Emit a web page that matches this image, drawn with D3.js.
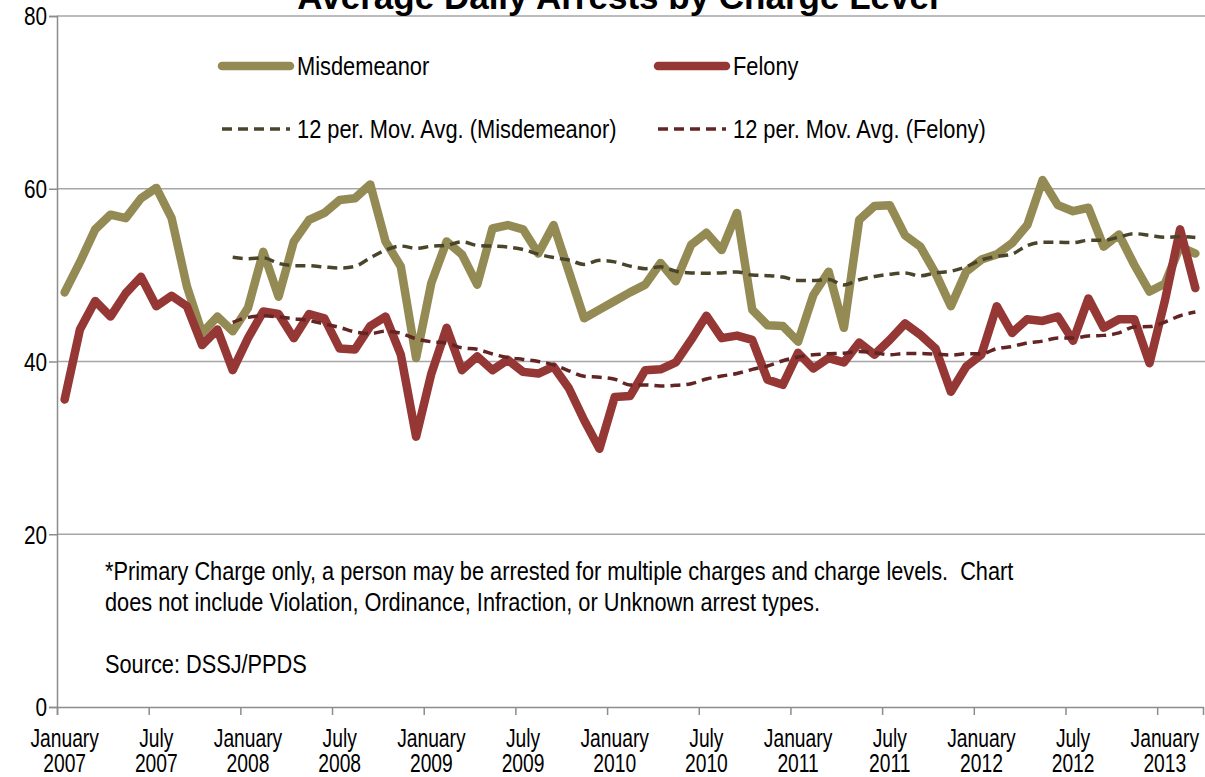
<!DOCTYPE html>
<html>
<head>
<meta charset="utf-8">
<script src="https://cdn.jsdelivr.net/npm/d3@7"></script>
<style>
  body { margin: 0; background: #fff; }
  text { font-family: "Liberation Sans", Arial, sans-serif; fill: #000; }
</style>
</head>
<body>
<div id="chart"></div>
<script>
var width = 1205;
var height = 777;

// months Jan 2007 .. Mar 2013
var monthNames = ["January","February","March","April","May","June","July","August","September","October","November","December"];
var months = [];
for (var yr = 2007; yr <= 2013; yr++) {
  for (var m = 0; m < 12; m++) {
    if (yr === 2013 && m > 2) break;
    months.push(monthNames[m] + " " + yr);
  }
}

var misdemeanor = [48.0,51.5,55.3,57.0,56.6,58.9,60.1,56.6,48.7,43.3,45.2,43.5,
  46.2,52.7,47.5,53.9,56.4,57.2,58.7,58.9,60.5,53.9,51.0,40.4,
  49.1,53.9,52.4,48.9,55.4,55.8,55.3,52.5,55.8,50.4,45.0,46.0,
  47.0,48.0,48.9,51.4,49.3,53.5,54.9,52.9,57.2,46.0,44.2,44.1,
  42.3,47.7,50.4,43.9,56.4,58.0,58.1,54.6,53.3,50.2,46.4,50.4,
  51.8,52.4,53.7,55.8,61.0,58.1,57.4,57.8,53.3,54.7,51.2,48.1,
  49.0,53.3,52.5];

var felony = [35.6,43.7,47.0,45.2,47.9,49.8,46.4,47.6,46.4,41.9,43.7,39.0,
  42.7,45.8,45.5,42.7,45.5,45.0,41.5,41.4,44.1,45.2,40.8,31.3,
  38.6,43.9,39.0,40.6,39.0,40.2,38.8,38.6,39.4,36.9,33.2,29.9,
  35.9,36.0,39.0,39.1,39.9,42.5,45.3,42.7,43.0,42.5,37.9,37.3,
  41.0,39.2,40.4,39.9,42.2,40.8,42.5,44.4,43.1,41.5,36.5,39.4,
  40.8,46.4,43.3,44.9,44.7,45.2,42.4,47.3,43.9,44.9,44.9,39.8,
  47.0,55.3,48.5];

var yTicks = [0, 20, 40, 60, 80];
var xTickMonths = [0, 6, 12, 18, 24, 30, 36, 42, 48, 54, 60, 66, 72];
var xTickLabels = [["January","2007"],["July","2007"],["January","2008"],["July","2008"],
  ["January","2009"],["July","2009"],["January","2010"],["July","2010"],
  ["January","2011"],["July","2011"],["January","2012"],["July","2012"],["January","2013"]];

var legendNames = ["Misdemeanor", "Felony", "12 per. Mov. Avg. (Misdemeanor)", "12 per. Mov. Avg. (Felony)"];
var noteLines = ["*Primary Charge only, a person may be arrested for multiple charges and charge levels.  Chart",
  "does not include Violation, Ordinance, Infraction, or Unknown arrest types.",
  "",
  "Source: DSSJ/PPDS"];

var misColor = "#948a54", felColor = "#953735";
var misAvgColor = "#4a452a", felAvgColor = "#632523";

// 12 period moving average, same as the excel trendline
function movAvg(arr, n) {
  var out = [];
  for (var i = n - 1; i < arr.length; i++) {
    out.push({ i: i, v: d3.mean(arr.slice(i - n + 1, i + 1)) });
  }
  return out;
}

// no narrow font installed, so squeeze text sideways around its x anchor
function narrow(sel, k, ax) {
  sel.attr("transform", function(d, i){
    var x0 = ax ? ax(d, i) : +d3.select(this).attr("x");
    return "translate(" + x0 + ",0) scale(" + k + ",1) translate(" + (-x0) + ",0)";
  });
}

const x = d3.scaleLinear().domain([0, months.length]).range([57, 1203]);
const y = d3.scaleLinear().domain([0, 80]).range([707, 16]);

const svg = d3.select("#chart")
  .append("svg")
  .attr("width", width)
  .attr("height", height);

// gridlines
svg.append("g")
  .selectAll("line")
  .data(yTicks.slice(1))
  .enter().append("line")
  .attr("x1", 57).attr("x2", width)
  .attr("y1", function(d){ return y(d); })
  .attr("y2", function(d){ return y(d); })
  .attr("stroke", "#a6a6a6")
  .attr("stroke-width", 1.5);

// y axis
var yAxis = svg.append("g")
  .attr("transform", "translate(57,0)")
  .call(d3.axisLeft(y).tickValues(yTicks).tickSize(8).tickFormat(d3.format("d")));
yAxis.select(".domain").attr("stroke", "#8c8c8c").attr("stroke-width", 1.5);
yAxis.selectAll(".tick line").attr("stroke", "#8c8c8c").attr("stroke-width", 1.5);
yAxis.selectAll(".tick text")
  .attr("x", -10)
  .attr("dy", "0.35em")
  .style("font-size", "25px")
  .style("font-family", null)
  .call(narrow, 0.83);

// x axis
var xAxis = svg.append("g")
  .attr("transform", "translate(0,707)")
  .call(d3.axisBottom(x).tickValues(xTickMonths).tickSize(8).tickFormat(""));
xAxis.select(".domain").attr("stroke", "#8c8c8c").attr("stroke-width", 1.5);
xAxis.selectAll(".tick line").attr("stroke", "#8c8c8c").attr("stroke-width", 1.5);

var xLab = svg.append("g")
  .selectAll("text")
  .data(xTickMonths)
  .enter().append("text")
  .attr("text-anchor", "middle")
  .style("font-size", "25px")
  .call(narrow, 0.77, function(d){ return x(d + 0.5); });
xLab.append("tspan")
  .attr("x", function(d){ return x(d + 0.5); })
  .attr("y", 747)
  .text(function(d, i){ return xTickLabels[i][0]; });
xLab.append("tspan")
  .attr("x", function(d){ return x(d + 0.5); })
  .attr("y", 772)
  .text(function(d, i){ return xTickLabels[i][1]; });

const line = d3.line()
  .x(function(d, i){ return x(i + 0.5); })
  .y(function(d){ return y(d); });

const avgLine = d3.line()
  .curve(d3.curveMonotoneX)
  .x(function(d){ return x(d.i + 0.5); })
  .y(function(d){ return y(d.v); });

svg.append("path")
  .datum(misdemeanor)
  .attr("fill", "none")
  .attr("stroke", misColor)
  .attr("stroke-width", 8.5)
  .attr("stroke-linejoin", "round")
  .attr("stroke-linecap", "round")
  .attr("d", line);

svg.append("path")
  .datum(felony)
  .attr("fill", "none")
  .attr("stroke", felColor)
  .attr("stroke-width", 8.5)
  .attr("stroke-linejoin", "round")
  .attr("stroke-linecap", "round")
  .attr("d", line);

svg.append("path")
  .datum(movAvg(misdemeanor, 12))
  .attr("fill", "none")
  .attr("stroke", misAvgColor)
  .attr("stroke-width", 3.5)
  .attr("stroke-dasharray", "10,6")
  .attr("d", avgLine);

svg.append("path")
  .datum(movAvg(felony, 12))
  .attr("fill", "none")
  .attr("stroke", felAvgColor)
  .attr("stroke-width", 3.5)
  .attr("stroke-dasharray", "10,6")
  .attr("d", avgLine);

// title (top is cut off in the original too)
svg.append("text")
  .attr("x", 618)
  .attr("y", 9)
  .attr("text-anchor", "middle")
  .style("font-weight", "bold")
  .style("font-size", "35px")
  .text("Average Daily Arrests by Charge Level");

// legend
var legendItems = [
  { name: legendNames[0], x: 222, y: 66, color: misColor, w: 8.5, dash: null },
  { name: legendNames[1], x: 658, y: 66, color: felColor, w: 8.5, dash: null },
  { name: legendNames[2], x: 222, y: 129, color: misAvgColor, w: 3.5, dash: "10,6" },
  { name: legendNames[3], x: 658, y: 129, color: felAvgColor, w: 3.5, dash: "10,6" }
];
var leg = svg.append("g").selectAll("g")
  .data(legendItems)
  .enter().append("g");
leg.append("line")
  .attr("x1", function(d){ return d.x; })
  .attr("x2", function(d){ return d.x + 68; })
  .attr("y1", function(d){ return d.y; })
  .attr("y2", function(d){ return d.y; })
  .attr("stroke", function(d){ return d.color; })
  .attr("stroke-width", function(d){ return d.w; })
  .attr("stroke-linecap", function(d){ return d.dash ? "butt" : "round"; })
  .attr("stroke-dasharray", function(d){ return d.dash; });
leg.append("text")
  .attr("x", function(d){ return d.x + 75; })
  .attr("y", function(d){ return d.y + 9; })
  .style("font-size", "26px")
  .text(function(d){ return d.name; })
  .call(narrow, 0.84);

// note
svg.append("g")
  .selectAll("text")
  .data(noteLines)
  .enter().append("text")
  .attr("x", 105)
  .attr("y", function(d, i){ return 580 + i * 31; })
  .style("font-size", "25px")
  .style("white-space", "pre")
  .text(function(d){ return d; })
  .call(narrow, 0.87);
</script>
</body>
</html>
